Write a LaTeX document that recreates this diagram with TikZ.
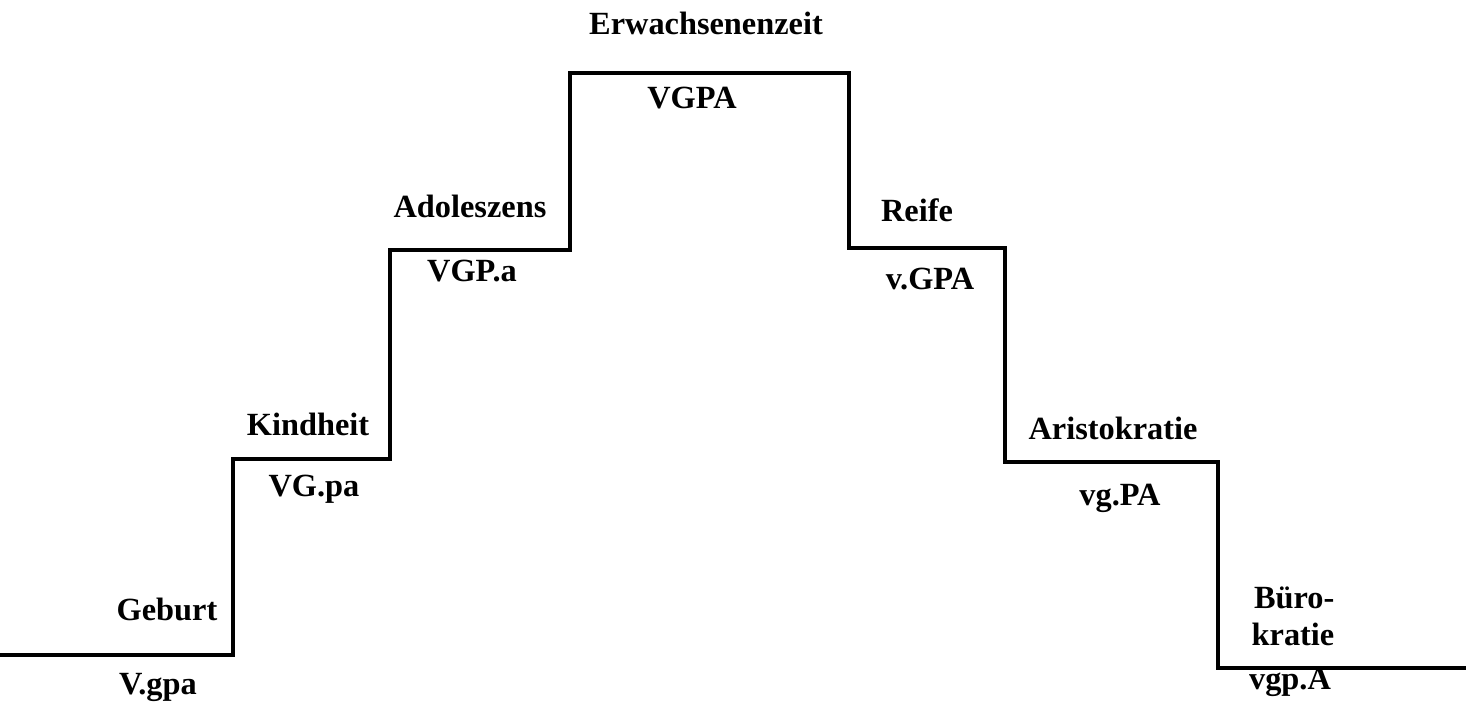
\documentclass[tikz,border=0pt]{standalone}
\usepackage{fontspec}
\setmainfont{Liberation Serif}
\usetikzlibrary{positioning}

\begin{document}
\begin{tikzpicture}[
    x=0.01cm, y=-0.01cm,
    stage/.style={font=\fontsize{9.2}{10.5}\selectfont\bfseries, inner sep=0pt, align=center},
    code/.style={font=\fontsize{9.2}{10.5}\selectfont\bfseries, inner sep=0pt},
    stair/.style={line width=0.9pt}
]
\useasboundingbox (0,0) rectangle (1466,704);

% corners of the staircase
\coordinate (s0) at (0,655);
\coordinate (s1) at (233,655);
\coordinate (s2) at (233,459);
\coordinate (s3) at (390,459);
\coordinate (s4) at (390,250);
\coordinate (s5) at (570,250);
\coordinate (s6) at (570,73);
\coordinate (s7) at (849,73);
\coordinate (s8) at (849,248);
\coordinate (s9) at (1005,248);
\coordinate (s10) at (1005,462);
\coordinate (s11) at (1218,462);
\coordinate (s12) at (1218,668);
\coordinate (s13) at (1466,668);

\draw[stair] (s0) -- (s1) -- (s2) -- (s3) -- (s4) -- (s5) -- (s6) -- (s7)
    -- (s8) -- (s9) -- (s10) -- (s11) -- (s12) -- (s13);

% stages above the steps
\node[stage] (geburt) at (167,609) {Geburt};
\node[stage] (kindheit) at (308,424) {Kindheit};
\node[stage] (adol) at (470,206) {Adoleszens};
\node[stage] (erw) at (706,23) {Erwachsenenzeit};
\node[stage] (reife) at (917,210) {Reife};
\node[stage] (aristo) at (1113,428) {Aristokratie};
\node[stage, align=right] (buero) at (1293,616) {B\"uro-\\kratie};

% codes below the steps
\node[code] (c0) at (158,687) {V.gpa};
\node[code] (c1) at (314,489) {VG.pa};
\node[code] (c2) at (472,271) {VGP.a};
\node[code] (c3) at (692,98) {VGPA};
\node[code] (c4) at (930,279) {v.GPA};
\node[code] (c5) at (1120,498) {vg.PA};
\node[code] (c6) at (1290,682) {vgp.A};

\end{tikzpicture}
\end{document}
